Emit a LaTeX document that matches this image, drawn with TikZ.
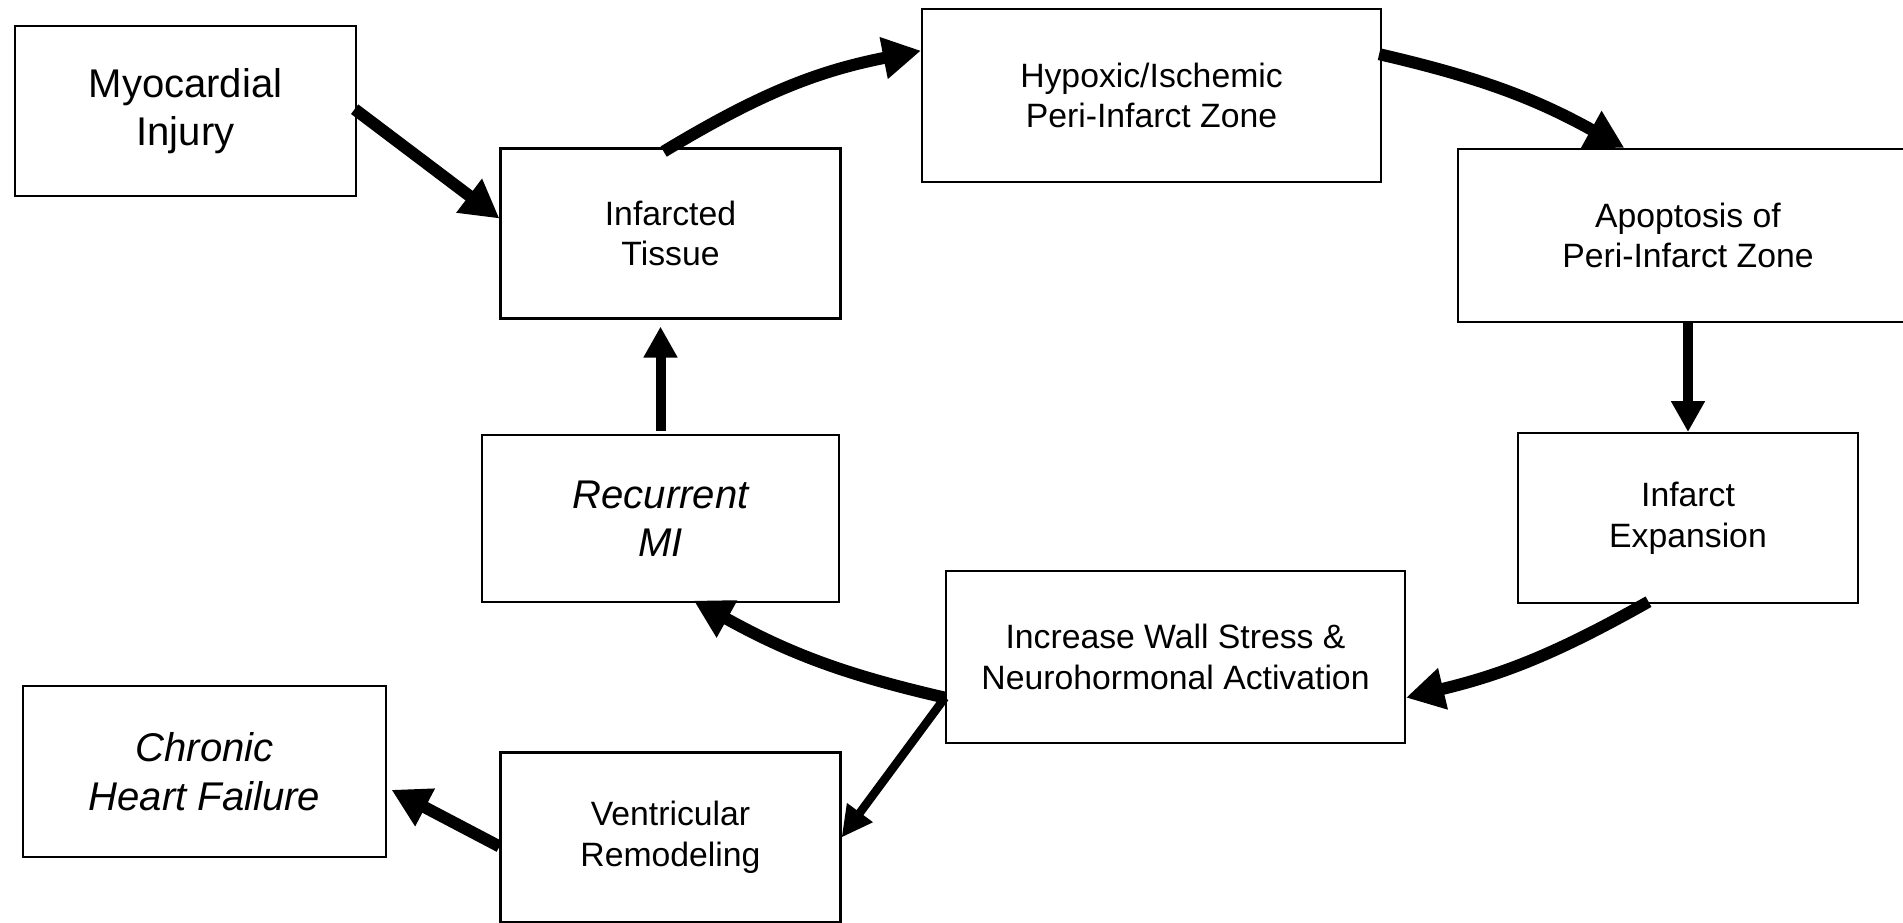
\documentclass[tikz,border=0pt]{standalone}
\usepackage{fontspec}
\setmainfont{Liberation Sans}
\usetikzlibrary{positioning,arrows.meta}
\tikzstyle{Caja}=[rectangle, draw=black, line width=0.6pt, align=center, inner sep=0pt, minimum width=34mm, minimum height=17mm, font=\fontsize{9.6}{11.6}\selectfont]
\tikzstyle{CajaAncha}=[Caja, minimum width=45.9mm, minimum height=17.3mm]
\tikzstyle{CajaGrande}=[Caja, font=\fontsize{11.4}{13.8}\selectfont]
\tikzstyle{CajaCursiva}=[Caja, font=\fontsize{11.4}{13.8}\selectfont\itshape]
\tikzstyle{Flecha}=[-{Triangle[length=3.8mm, width=4mm]}, line width=1.2mm]
\tikzstyle{FlechaRecta}=[-{Triangle[length=3.1mm, width=3.2mm]}, line width=1mm]
\tikzstyle{FlechaFina}=[-{Triangle[length=3.1mm, width=3mm]}, line width=0.85mm]

\begin{document}
\begin{tikzpicture}[x=0.1mm, y=-0.1mm]
			\useasboundingbox (0,0) rectangle (1903,923);
			%Cajas
			\node[CajaGrande, minimum width=34.1mm]		(myocardial)	at (185.5,111)		{Myocardial\\Injury};
			\node[Caja]		(tissue)		at (670.5,233.5)	{Infarcted\\Tissue};
			\node[CajaAncha]	(hypoxic)		at (1151.5,95.5)	{Hypoxic/Ischemic\\Peri-Infarct Zone};
			\node[CajaAncha, minimum width=46mm]	(apoptosis)	at (1688,235.5)	{Apoptosis of\\Peri-Infarct Zone};
			\node[Caja]		(expansion)	[below=10.9mm of apoptosis]	{Infarct\\Expansion};
			\node[CajaAncha, minimum height=17.2mm]	(stress)	at (1175.5,657)	{Increase Wall Stress \&\\Neurohormonal Activation};
			\node[CajaCursiva, minimum width=35.7mm, minimum height=16.7mm]	(recurrent)	at (660.5,518.5)	{Recurrent\\MI};
			\node[CajaCursiva, minimum width=36.3mm, minimum height=17.1mm]	(chronic)	at (204.5,771.5)	{Chronic\\Heart Failure};
			\node[Caja]		(ventricular)	at (670.5,837.5)	{Ventricular\\Remodeling};

			%Flechas
			\draw[Flecha, shorten <=-0.3mm] (myocardial.east) -- (tissue.175);
			\draw[Flecha, shorten <=-0.8mm] (tissue.north) to[bend left=10] (hypoxic.169);
			\draw[Flecha, shorten <=-0.3mm] (hypoxic.10) to[bend left=8] (apoptosis.126);
			\draw[FlechaRecta] (apoptosis.south) -- (expansion.north);
			\draw[Flecha, shorten <=-0.5mm] (expansion.243) to[bend left=8] (stress.350);
			\draw[Flecha, shorten >=-0.5mm] (stress.190) to[bend left=8] (recurrent.294);
			\draw[FlechaFina] (stress.190) -- (ventricular.east);
			\draw[Flecha, shorten >=0.5mm] (ventricular.183) -- (chronic.355);
			\draw[FlechaRecta, shorten >=0.7mm, shorten <=0.3mm] (recurrent.north) -- (recurrent.north |- tissue.south);
		\end{tikzpicture}
\end{document}
